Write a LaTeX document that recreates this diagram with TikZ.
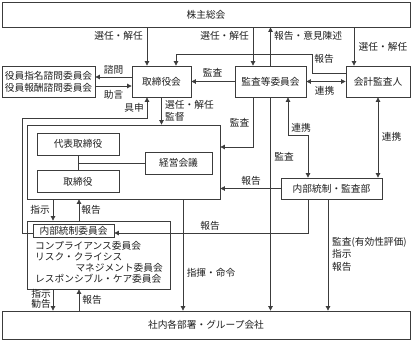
\documentclass[tikz,border=0pt]{standalone}
\usepackage{fontspec}
\setmainfont{Noto Sans CJK JP}
\usepackage{tikz}
\usetikzlibrary{positioning,arrows.meta}
\definecolor{edge}{HTML}{3C3C3C}
\definecolor{txt}{HTML}{1E1E1E}
\tikzset{
  org/.style={draw=edge, line width=0.8pt, inner sep=0pt, text=txt,
              font=\fontsize{9.7}{12}\selectfont, align=center},
  ar/.style={-{Triangle[length=4.5pt,width=4.5pt]}, line width=0.7pt, color=edge},
  ar2/.style={{Triangle[length=4.5pt,width=4.5pt]}-{Triangle[length=4.5pt,width=4.5pt]},
              line width=0.7pt, color=edge},
  ln/.style={line width=0.7pt, color=edge},
  lbl/.style={inner sep=0pt, text=txt, font=\fontsize{9.7}{12.5}\selectfont, align=left},
}
\begin{document}
\begin{tikzpicture}[x=1pt,y=-1pt]
\useasboundingbox (0,0) rectangle (412,341);
% --- TOP ROW ---
\node[org, minimum width=408pt, minimum height=25pt] (share) at (206,14.5) {株主総会};
\node[org, minimum width=59pt, minimum height=31pt] (board) at (161.5,81.5) {取締役会};
\node[org, minimum width=71pt, minimum height=31pt] (ac) at (270.5,81.5) {監査等委員会};
\node[org, minimum width=64pt, minimum height=31pt] (extaud) at (378,81.5) {会計監査人};
\node[org, minimum width=93pt, minimum height=31pt] (adv) at (48.5,81.5) {役員指名諮問委員会\\役員報酬諮問委員会};

% --- EXECUTIVE BLOCK ---
\node[org, minimum width=193pt, minimum height=74pt] (exec) at (123.5,162) {};
\node[org, minimum width=82pt, minimum height=22pt] (rep) at (78,144) {代表取締役};
\node[org, minimum width=82pt, minimum height=22pt] (dir) [below=15pt of rep] {取締役};
\node[org, minimum width=67pt, minimum height=22pt] (mtg) at (178.5,163) {経営会議};
\draw[ln] (rep) -- (dir);
\draw[ln] (rep.south |- mtg.west) -- (mtg.west);
\node[org, minimum width=101pt, minimum height=21pt] (ia) at (331.5,188.5) {内部統制・監査部};

% --- COMMITTEES ---
\node[org, minimum width=143pt, minimum height=68pt] (cmt) at (98.5,255) {};
\node[org, minimum width=81pt, minimum height=13pt] (icc) at (73.5,230.5) {内部統制委員会};
\node[lbl, anchor=west] (c1) at (35,246) {コンプライアンス委員会};
\node[lbl, anchor=west] (c2) at (35,256.5) {リスク・クライシス};
\node[lbl, anchor=east] (c3) at (163,268) {マネジメント委員会};
\node[lbl, anchor=west] (c4) at (35,279) {レスポンシブル・ケア委員会};

% --- BOTTOM ROW ---
\node[org, minimum width=408pt, minimum height=28pt] (groups) at (206,325) {社内各部署・グループ会社};

% --- helper points ---
\coordinate (bdA) at ([xshift=-14.5pt]board.north);
\coordinate (bdB) at ([xshift=14.5pt]board.north);
\coordinate (bdW1) at ([yshift=4.5pt]board.west);
\coordinate (bdW2) at ([yshift=-4.5pt]board.west);
\coordinate (acA) at ([xshift=-17.5pt]ac.north);
\coordinate (acC) at ([xshift=17.5pt]ac.south);
\coordinate (eaA) at ([xshift=-24pt]extaud.north);
\coordinate (exE1) at ([yshift=15pt]exec.east);
\coordinate (exS1) at ([xshift=-70.5pt]exec.south);
\coordinate (exS2) at ([xshift=-44.5pt]exec.south);
\coordinate (exS3) at ([xshift=59.5pt]exec.south);
\coordinate (iaA) at ([xshift=-23.5pt]ia.north);
\coordinate (iaB) at ([xshift=-3.5pt]ia.south);
\coordinate (iccW) at ([yshift=-2.5pt]icc.west);

% --- shareholders ---
\draw[ar] (share.south -| bdA) -- (bdA);
\node[lbl, anchor=east] at (143,36) {選任・解任};
\draw[ar] (share.south -| acA) -- (acA);
\node[lbl, anchor=east] at (249,36) {選任・解任};
\draw[ar] (ac.north) -- (share.south -| ac.north);
\node[lbl, anchor=west] at (274,36) {報告・意見陳述};
\draw[ar] (share.south -| eaA) -- (eaA);
\node[lbl, anchor=west] at (358.5,47) {選任・解任};
\draw[ar] ([yshift=8.5pt]extaud.west) -| (312,54) -| (bdB);
\node[lbl] at (324,59) {報告};

% --- board row ---
\draw[ar] (bdW1) -- (bdW1 -| adv.east);
\node[lbl] at (113.5,69.5) {諮問};
\draw[ar] (bdW2 -| adv.east) -- (bdW2);
\node[lbl] at (113.5,95) {助言};
\draw[ar] (ac.west) -- (board.east);
\node[lbl] at (212.5,73) {監査};
\draw[ar2] (ac.east) -- (extaud.west);
\node[lbl] at (324.5,91) {連携};
\draw[ar] (iccW) -| (22,118) -| (bdA |- board.south);
\node[lbl] at (134,108) {具申};
\draw[ar] (board.south) -- (board.south |- exec.north);
\node[lbl, anchor=west] at (165,111) {選任・解任\\監督};

% --- audit lines ---
\draw[ar] (acA |- ac.south) |- (exE1);
\node[lbl] at (239.5,123) {監査};
\draw[ar] (ac.south) -- (ac.south |- groups.north);
\node[lbl] at (284,157) {監査};
\draw[ar2] (acC) -- ++(0,38) -| (iaA);
\node[lbl] at (301,128) {連携};
\draw[ar2] (extaud.south) -- (extaud.south |- ia.north);
\node[lbl] at (391.5,136.5) {連携};
\draw[ar] (ia.west) -- (ia.west -| exec.east);
\node[lbl] at (251,181) {報告};

% --- executive to committees ---
\draw[ar] (exS1) -- (exS1 |- cmt.north);
\node[lbl] at (40,210) {指示};
\draw[ar] (exS2 |- cmt.north) -- (exS2);
\node[lbl] at (91,210) {報告};
\draw[ar] (iaA |- ia.south) |- (iccW -| icc.east);
\node[lbl] at (210,226) {報告};

% --- down to the group ---
\draw[ar] (exS3) -- (exS3 |- groups.north);
\node[lbl] at (211,273) {指揮・命令};
\draw[ar] (iaB) -- (iaB |- groups.north);
\node[lbl, anchor=north west] at (332,237) {監査(有効性評価)\\指示\\報告};
\draw[ar] (exS1 |- cmt.south) -- (exS1 |- groups.north);
\node[lbl, anchor=east] at (51,299) {指示\\[-2pt]勧告};
\draw[ar] (exS2 |- groups.north) -- (exS2 |- cmt.south);
\node[lbl] at (92,300) {報告};
\end{tikzpicture}
\end{document}
